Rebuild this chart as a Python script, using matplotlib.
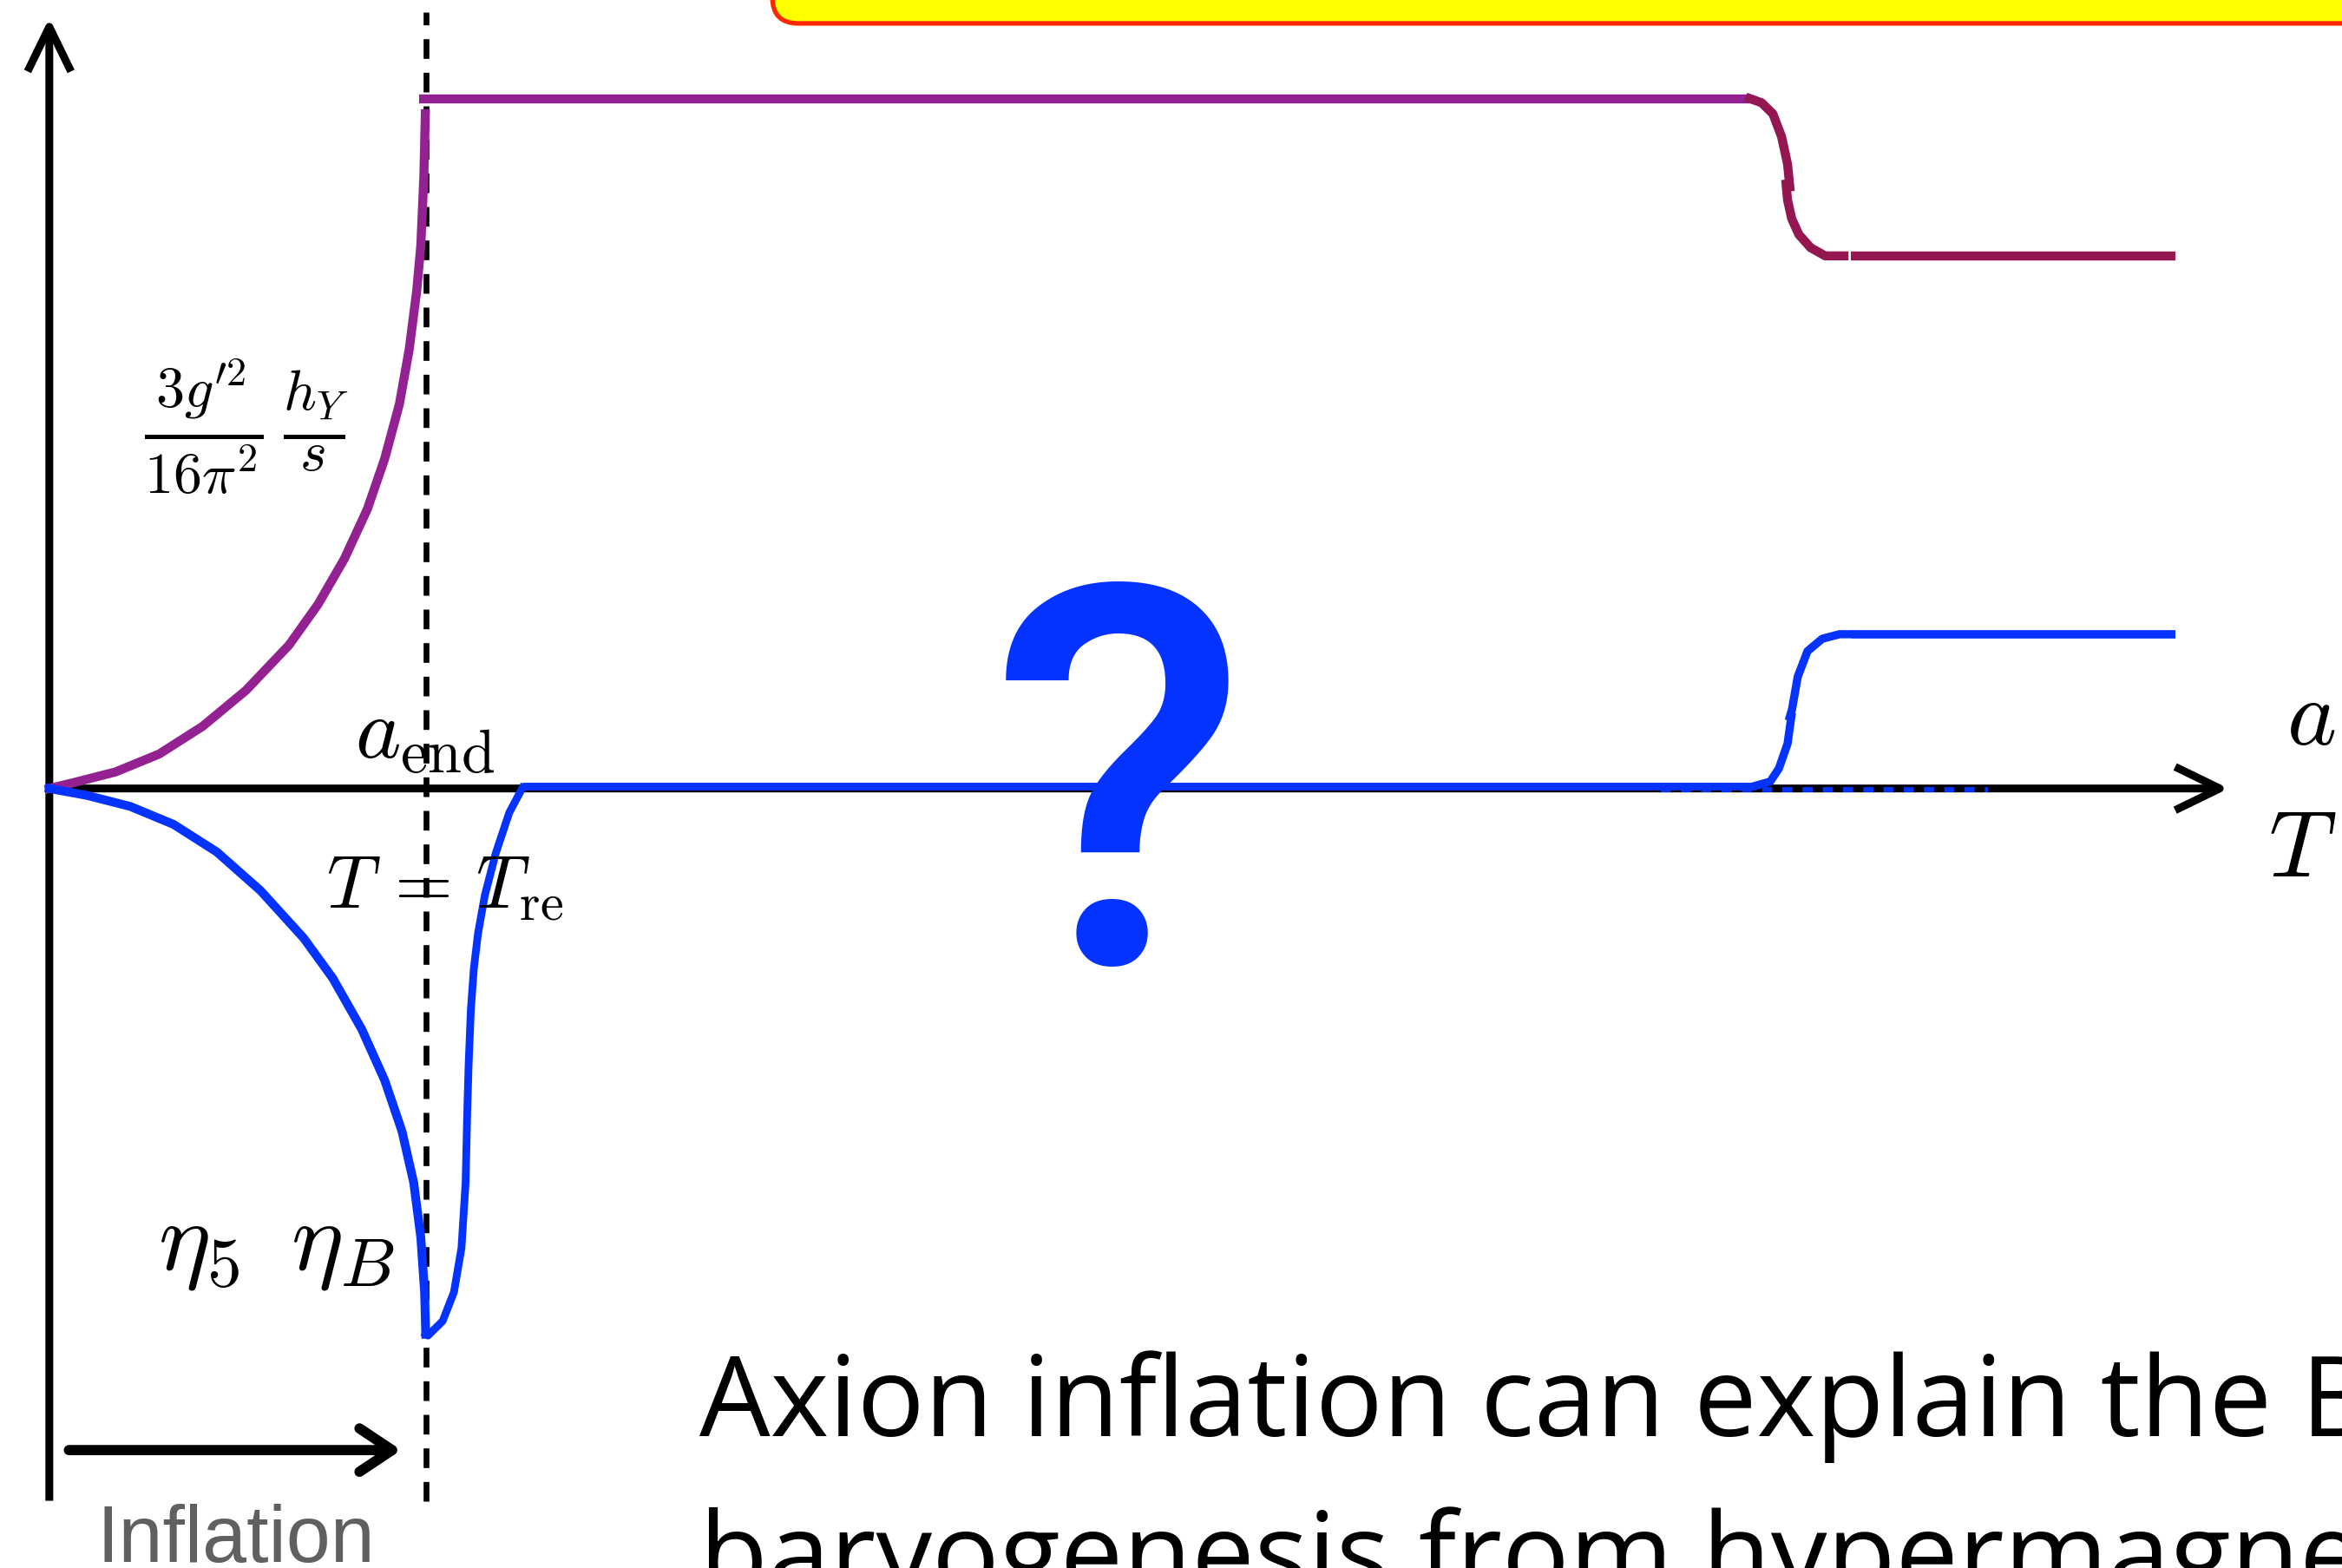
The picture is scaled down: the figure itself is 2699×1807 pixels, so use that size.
import numpy as np
import matplotlib.pyplot as plt
from matplotlib.patches import FancyBboxPatch

plt.rcParams['mathtext.fontset'] = 'cm'

# x in units of a_end (end of inflation), y in units of the h_Y plateau

# helicity 3g'^2/(16 pi^2) h_Y/s : growth during inflation
hy_rise_x = [0.0, 0.061, 0.176, 0.292, 0.407, 0.522, 0.637, 0.714, 0.784, 0.845,
             0.891, 0.930, 0.956, 0.976, 0.987, 0.995, 0.999]
hy_rise_y = [0.0, 0.008, 0.024, 0.050, 0.090, 0.142, 0.208, 0.267, 0.333, 0.405,
             0.478, 0.557, 0.636, 0.721, 0.787, 0.886, 0.978]
hy_flat_x = [0.982, 4.518]
hy_flat_y = [1.0, 1.0]
# drop at the electroweak crossover (drawn in two strokes)
hy_drop1_x = [4.518, 4.549, 4.579, 4.602, 4.618, 4.624]
hy_drop1_y = [1.0, 0.994, 0.978, 0.945, 0.905, 0.872]
hy_drop2_x = [4.614, 4.618, 4.629, 4.648, 4.679, 4.718, 4.768]
hy_drop2_y = [0.876, 0.853, 0.826, 0.803, 0.784, 0.772, 0.772]
hy_late_x = [4.786, 5.648]
hy_late_y = [0.772, 0.772]

# eta_5 / eta_B : dip during inflation, washout after reheating
eta_dip_x = [0.0, 0.100, 0.215, 0.330, 0.445, 0.561, 0.676, 0.753, 0.830, 0.891,
             0.937, 0.968, 0.987, 0.997, 1.000]
eta_dip_y = [0.0, -0.010, -0.026, -0.052, -0.092, -0.148, -0.217, -0.275, -0.349, -0.423,
             -0.497, -0.571, -0.651, -0.730, -0.791]
eta_back_x = [1.000, 1.006, 1.045, 1.075, 1.095, 1.106, 1.110, 1.114, 1.120, 1.128,
              1.139, 1.157, 1.186, 1.222, 1.257]
eta_back_y = [-0.791, -0.793, -0.772, -0.730, -0.666, -0.571, -0.476, -0.400, -0.320, -0.260,
              -0.210, -0.155, -0.094, -0.035, 0.001]
eta_zero_x = [1.257, 4.533]
eta_zero_y = [0.003, 0.003]
eta_gen1_x = [4.533, 4.572, 4.595, 4.618, 4.628]
eta_gen1_y = [0.004, 0.010, 0.029, 0.065, 0.104]
eta_gen2_x = [4.624, 4.630, 4.645, 4.671, 4.710, 4.756, 4.781]
eta_gen2_y = [0.104, 0.115, 0.162, 0.199, 0.217, 0.2236, 0.2236]
eta_late_x = [4.788, 5.648]
eta_late_y = [0.2236, 0.2236]
eta_dot_x = [4.282, 5.151]
eta_dot_y = [-0.002, -0.002]

a_end = 1.0
x_tip = 5.79
y_tip = 1.117
y_bottom = -1.0325
dash_top = 1.1255

purple = '#942192'
maroon = '#941751'
blue = '#0433FF'

fig = plt.figure(figsize=(26.99, 18.07), dpi=100)
ax = fig.add_axes([0, 0, 1, 1])
ax.set_xlim(-0.131, 6.091)
ax.set_ylim(-1.1299, 1.1429)
ax.axis('off')

# title box peeking in at the top
box = FancyBboxPatch((1.921, 1.109), 5.0, 0.5,
                     boxstyle='round,pad=0,rounding_size=0.069', mutation_aspect=0.545,
                     fc='#FFFF00', ec='#FF2600', lw=3.8, zorder=1)
ax.add_patch(box)

# axes with open arrow heads
arr = dict(arrowstyle='->,head_length=3.7,head_width=1.8', lw=6.5, color='black',
           shrinkA=0, shrinkB=0, mutation_scale=10, capstyle='butt')
ax.annotate('', xy=(x_tip, 0), xytext=(0, 0), arrowprops=arr, zorder=2)
ax.annotate('', xy=(0, y_tip), xytext=(0, y_bottom), arrowprops=arr, zorder=2)
ax.annotate('', xy=(0.935, -0.959), xytext=(0.052, -0.959),
            arrowprops=dict(arrowstyle='->,head_length=2.7,head_width=1.8', lw=8.5,
                            color='black', shrinkA=0, shrinkB=0, mutation_scale=10),
            zorder=2)

# end of inflation
ax.plot([a_end, a_end], [y_bottom, dash_top], color='black', lw=4.8,
        linestyle=(0, (3.4, 2.4)), zorder=3)

curve = dict(solid_joinstyle='round', zorder=4)
ax.plot(hy_rise_x, hy_rise_y, color=purple, lw=7.5, **curve)
ax.plot(hy_flat_x, hy_flat_y, color=purple, lw=7.5, solid_capstyle='butt', zorder=4)
ax.plot(hy_drop1_x, hy_drop1_y, color=maroon, lw=7.5, **curve)
ax.plot(hy_drop2_x, hy_drop2_y, color=maroon, lw=7.5, **curve)
ax.plot(hy_late_x, hy_late_y, color=maroon, lw=7.5, solid_capstyle='butt', zorder=4)

ax.plot(eta_dot_x, eta_dot_y, color=blue, lw=4.2, linestyle=(0, (2, 2)), zorder=4)
curve['zorder'] = 5
ax.plot(eta_dip_x, eta_dip_y, color=blue, lw=7.3, **curve)
ax.plot(eta_back_x, eta_back_y, color=blue, lw=6.4, **curve)
ax.plot(eta_zero_x, eta_zero_y, color=blue, lw=6.4, solid_capstyle='butt', zorder=5)
ax.plot(eta_gen1_x, eta_gen1_y, color=blue, lw=6.8, **curve)
ax.plot(eta_gen2_x, eta_gen2_y, color=blue, lw=6.8, **curve)
ax.plot(eta_late_x, eta_late_y, color=blue, lw=7, solid_capstyle='butt', zorder=5)

# labels
ax.text(0.524, 0.525, r"$\frac{3g^{\prime 2}}{16\pi^2}\,\frac{h_Y}{s}$", fontsize=68,
        ha='center', va='center', zorder=6)
ax.text(0.998, 0.078, r'$a_{\rm end}$', fontsize=72, ha='center', va='center', zorder=6)
ax.text(1.052, -0.143, r'$T\,=\,T_{\rm re}$', fontsize=62, ha='center', va='center', zorder=6)
ax.text(0.603, -0.660, r'$\eta_5\ \,\eta_B$', fontsize=82, ha='center', va='center', zorder=6)
ax.text(6.008, 0.102, r'$a$', fontsize=78, ha='center', va='center', zorder=6)
ax.text(5.986, -0.090, r'$T$', fontsize=78, ha='center', va='center', zorder=6)

ax.text(2.841, -0.253, '?', fontsize=440, family='Roboto', fontweight='medium',
        color=blue, ha='center', va='baseline', zorder=7)

ax.text(0.127, -1.121, 'Inflation', fontsize=66, color='#606060',
        family='Liberation Sans', ha='left', va='baseline', zorder=6)
ax.text(1.726, -0.939, 'Axion inflation can explain the BAU', fontsize=93,
        family='Open Sans', ha='left', va='baseline', zorder=6)
ax.text(1.726, -1.165, 'baryogenesis from hypermagnetic helicity', fontsize=93,
        family='Open Sans', ha='left', va='baseline', zorder=6)

fig.savefig('out.png', dpi=100)
